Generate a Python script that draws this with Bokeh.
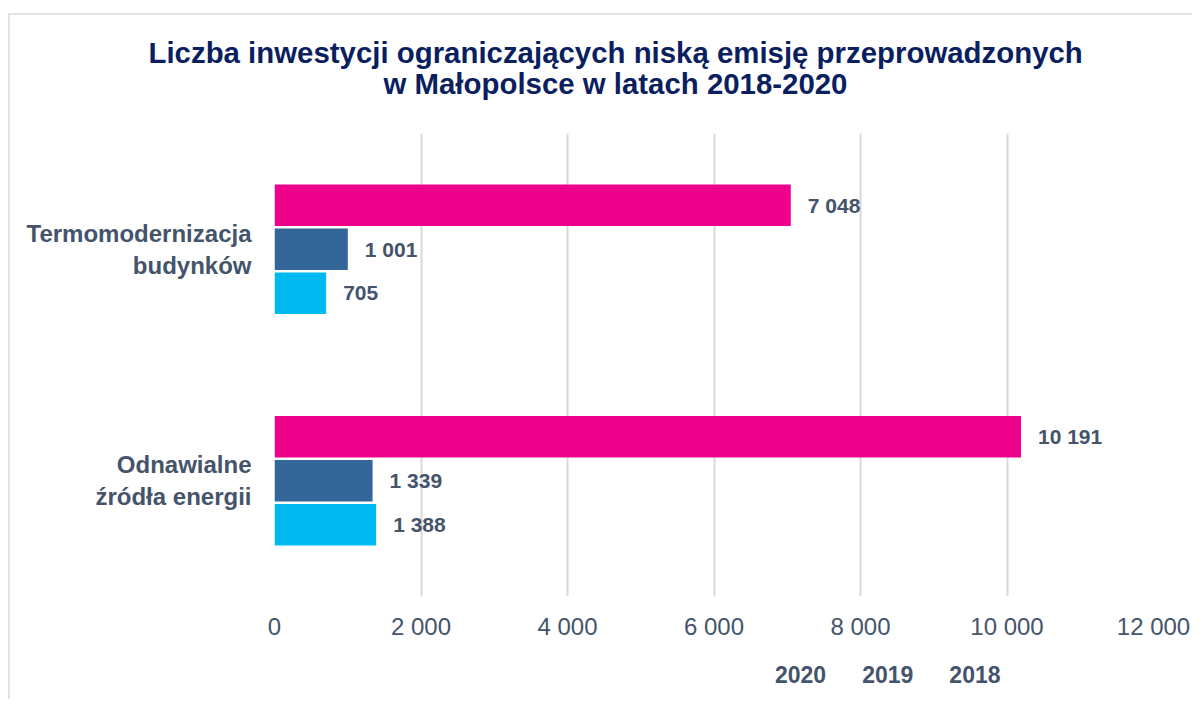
from bokeh.plotting import figure
from bokeh.layouts import column
from bokeh.models import (ColumnDataSource, FactorRange, Range1d, FixedTicker,
                          LabelSet, Legend, LegendItem, Title)
from bokeh.transform import dodge
from bokeh.core.properties import value
from bokeh.embed import file_html
from bokeh.resources import INLINE

# ---- data ----
categories = ["Termomodernizacja\nbudynków", "Odnawialne\nźródła energii"]
years = ["2020", "2019", "2018"]
values_2020 = [7048, 10191]
values_2019 = [1001, 1339]
values_2018 = [705, 1388]
x_ticks = [0, 2000, 4000, 6000, 8000, 10000, 12000]
x_tick_labels = ["0", "2 000", "4 000", "6 000", "8 000", "10 000", "12 000"]
title_lines = ["Liczba inwestycji ograniczających niską emisję przeprowadzonych",
               "w Małopolsce w latach 2018-2020"]
colors = ["#EC008C", "#336699", "#00B9F0"]

FONT = "Liberation Sans"
TXT = "#44546A"
TITLE_C = "#0B1F60"
BORDER = "2px solid #e3e3e3"


def fmt(v):
    return f"{v:,}".replace(",", " ")


p = figure(width=1184, height=631,
           y_range=FactorRange(factors=list(reversed(categories))),
           x_range=Range1d(0, 12000), output_backend="svg", toolbar_location=None,
           title=None, min_border_left=264, min_border_right=41,
           min_border_top=118, min_border_bottom=50)
p.styles = {"border-top": BORDER, "border-left": BORDER}
p.outline_line_color = None
p.background_fill_color = "white"
p.border_fill_color = "white"

offsets = [0.19, 0.0, -0.19]
series = [values_2020, values_2019, values_2018]
for yr, vals, col, off in zip(years, series, colors, offsets):
    src = ColumnDataSource(dict(cat=categories, val=vals, label=[fmt(v) for v in vals]))
    p.hbar(y=dodge("cat", off, range=p.y_range), left=0, right="val", height=0.18,
           fill_color=col, line_color=None, source=src)
    lbl = LabelSet(x="val", y=dodge("cat", off, range=p.y_range), text="label", source=src,
                   x_offset=17, text_baseline="middle", text_align="left",
                   text_font=value(FONT), text_font_size="21px", text_font_style="bold",
                   text_color=TXT)
    p.add_layout(lbl)

# axes
p.xaxis.ticker = FixedTicker(ticks=x_ticks)
p.xaxis.major_label_overrides = {t: l for t, l in zip(x_ticks, x_tick_labels)}
p.xaxis.axis_line_color = None
p.xaxis.major_tick_line_color = None
p.xaxis.minor_tick_line_color = None
p.xaxis.major_label_standoff = 10
p.xaxis.major_label_text_font = FONT
p.xaxis.major_label_text_font_size = "24px"
p.xaxis.major_label_text_color = TXT

p.yaxis.axis_line_color = None
p.yaxis.major_tick_line_color = None
p.yaxis.minor_tick_line_color = None
p.yaxis.major_label_standoff = 17
p.yaxis.major_label_text_font = FONT
p.yaxis.major_label_text_font_size = "24px"
p.yaxis.major_label_text_font_style = "bold"
p.yaxis.major_label_text_color = TXT

p.xgrid.grid_line_color = "#d9d9d9"
p.xgrid.grid_line_width = 2
p.ygrid.grid_line_color = None

# titles
t2 = Title(text=title_lines[1], align="left", offset=109, text_font=FONT,
           text_font_size="29.4px", text_font_style="bold", text_color=TITLE_C, standoff=68)
t1 = Title(text=title_lines[0], align="left", offset=-126, text_font=FONT,
           text_font_size="29.4px", text_font_style="bold", text_color=TITLE_C, standoff=-76)
p.add_layout(t2, "above")
p.add_layout(t1, "above")

# legend strip (separate small figure so the legend is not clipped)
p2 = figure(width=1184, height=55, output_backend="svg", toolbar_location=None,
            title=None, x_axis_location=None, y_axis_location=None,
            min_border_left=0, min_border_right=0, min_border_top=0, min_border_bottom=0)
p2.styles = {"border-left": BORDER}
p2.outline_line_color = None
p2.grid.visible = False
p2.background_fill_color = "white"
p2.border_fill_color = "white"

legend_renderers = [p2.hbar(y=[], right=[], height=0.18, fill_color=col, line_color=None)
                    for col in colors]
legend = Legend(items=[LegendItem(label=y, renderers=[r])
                       for y, r in zip(years, legend_renderers)],
                orientation="horizontal", location=(485, 10), glyph_width=10,
                glyph_height=10, label_standoff=6, spacing=20, padding=0, margin=0,
                border_line_color=None, background_fill_alpha=0,
                label_text_font=FONT, label_text_font_size="23px",
                label_text_font_style="bold", label_text_color=TXT)
p2.add_layout(legend)

layout = column(p, p2, spacing=0, styles={"margin-left": "8px", "margin-top": "13px"})

open("out.html", "w").write(file_html(layout, INLINE))
